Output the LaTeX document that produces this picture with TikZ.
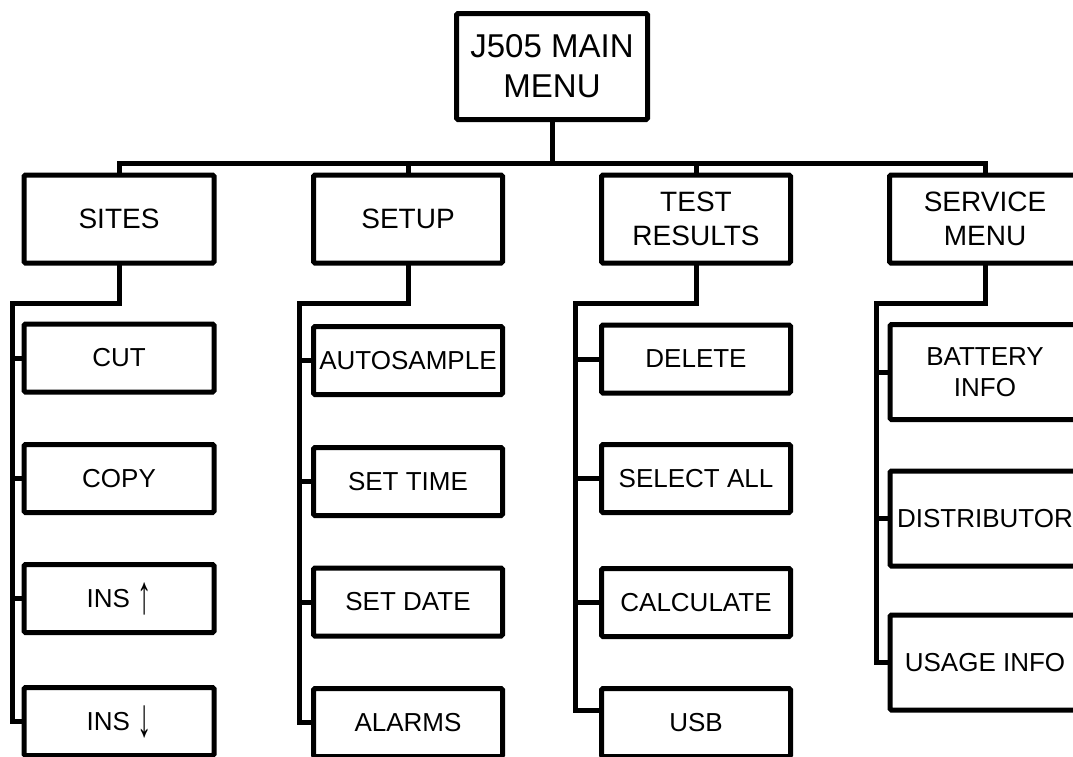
\documentclass[tikz,border=0pt]{standalone}
\usepackage{fontspec}
\setmainfont{Liberation Sans}
\newcommand{\tallarrow}[1]{\raisebox{-6pt}{\scalebox{1.1}[2.1]{#1}}}
\begin{document}
\begin{tikzpicture}[x=1pt,y=-1pt,
  box/.style={draw, line width=5pt, rounded corners=1.5pt, inner sep=0pt, outer sep=0pt,
    align=center, minimum width=190pt, minimum height=68pt, font=\fontsize{26}{31}\selectfont},
  topbox/.style={box, minimum height=88pt, font=\fontsize{28}{34}\selectfont},
  tallbox/.style={box, minimum height=95pt},
  conn/.style={line width=5pt, line join=miter}]
\useasboundingbox (0,0) rectangle (1073,756);
\clip (0,0) rectangle (1073,756);
% main
\node[box, minimum width=191pt, minimum height=106pt, font=\fontsize{33}{40}\selectfont] (main) at (552,66.5) {J505 MAIN\\MENU};
% level 1
\node[topbox] (sites) at (119,219) {SITES};
\node[topbox, minimum width=189pt] (setup) at (408,219) {SETUP};
\node[topbox, minimum width=189pt] (test) at (696,219) {TEST\\RESULTS};
\node[topbox, minimum width=191pt] (service) at (985,219) {SERVICE\\MENU};
% sites column
\node[box] (cut) at (119,358) {CUT};
\node[box] (copy) at (119,478.5) {COPY};
\node[box, text depth=0pt, text height=18.6pt] (insup) at (119,598.5) {INS \tallarrow{↑}};
\node[box, text depth=0pt, text height=18.6pt] (insdn) at (119,721.5) {INS \tallarrow{↓}};
% setup column
\node[box, minimum width=189pt] (auto) at (408,360.5) {AUTOSAMPLE};
\node[box, minimum width=189pt] (settime) at (408,481.5) {SET TIME};
\node[box, minimum width=189pt] (setdate) at (408,602) {SET DATE};
\node[box, minimum width=189pt] (alarms) at (408,722.5) {ALARMS};
% test column
\node[box, minimum width=189pt] (delete) at (696,359) {DELETE};
\node[box, minimum width=189pt] (selall) at (696,478.5) {SELECT ALL};
\node[box, minimum width=189pt] (calc) at (696,602.5) {CALCULATE};
\node[box, minimum width=189pt] (usb) at (696,722.5) {USB};
% service column
\node[tallbox] (battery) at (985,372) {BATTERY\\INFO};
\node[tallbox] (distrib) at (985,518.5) {DISTRIBUTOR};
\node[tallbox] (usage) at (985,662.5) {USAGE INFO};
% coordinates
\coordinate (bus) at (552,163);
\coordinate (sel) at (12,303);
\coordinate (tel) at (299,303);
\coordinate (uel) at (575,303);
\coordinate (vel) at (876,303);
% top bus
\draw[conn] (main.south) -- (main.south |- bus);
\draw[conn] (sites.north) -- (sites.north |- bus) -- (service.north |- bus) -- (service.north);
\draw[conn] (setup.north) -- (setup.north |- bus);
\draw[conn] (test.north) -- (test.north |- bus);
% sites
\draw[conn] (sites.south) -- (sites.south |- sel) -- (sel) |- (insdn.west);
\draw[conn] (sel |- cut.west) -- (cut.west);
\draw[conn] (sel |- copy.west) -- (copy.west);
\draw[conn] (sel |- insup.west) -- (insup.west);
% setup
\draw[conn] (setup.south) -- (setup.south |- tel) -- (tel) |- (alarms.west);
\draw[conn] (tel |- auto.west) -- (auto.west);
\draw[conn] (tel |- settime.west) -- (settime.west);
\draw[conn] (tel |- setdate.west) -- (setdate.west);
% test
\draw[conn] (test.south) -- (test.south |- uel) -- (uel) |- ([yshift=12pt]usb.west);
\draw[conn] (uel |- delete.west) -- (delete.west);
\draw[conn] (uel |- selall.west) -- (selall.west);
\draw[conn] (uel |- calc.west) -- (calc.west);
% service
\draw[conn] (service.south) -- (service.south |- vel) -- (vel) |- (usage.west);
\draw[conn] (vel |- battery.west) -- (battery.west);
\draw[conn] (vel |- distrib.west) -- (distrib.west);
\end{tikzpicture}
\end{document}
